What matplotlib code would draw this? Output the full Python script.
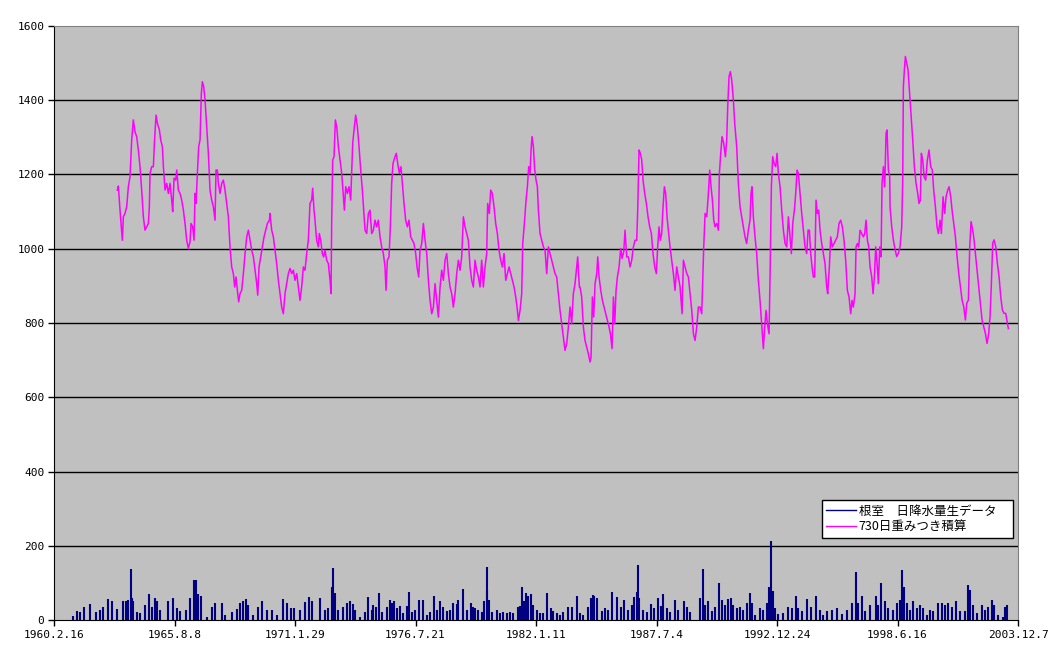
import datetime as dt

import matplotlib
matplotlib.use('Agg')
import matplotlib.pyplot as plt
from matplotlib.lines import Line2D

# 730日重みつき積算 (decimal year, mm)
sum_year = [
    1963.004, 1963.050, 1963.125, 1963.231, 1963.277, 1963.353, 1963.428, 1963.504, 1963.580, 1963.656,
    1963.731, 1963.807, 1963.883, 1963.959, 1964.034, 1964.110, 1964.186, 1964.262, 1964.337, 1964.413,
    1964.458, 1964.489, 1964.565, 1964.640, 1964.686, 1964.761, 1964.822, 1964.913, 1964.973, 1965.049,
    1965.095, 1965.170, 1965.246, 1965.322, 1965.398, 1965.473, 1965.519, 1965.579, 1965.655, 1965.701,
    1965.776, 1965.852, 1965.928, 1966.004, 1966.079, 1966.155, 1966.231, 1966.307, 1966.352, 1966.428,
    1966.488, 1966.534, 1966.579, 1966.640, 1966.700, 1966.761, 1966.822, 1966.867, 1966.928, 1966.988,
    1967.064, 1967.140, 1967.215, 1967.291, 1967.367, 1967.443, 1967.488, 1967.549, 1967.594, 1967.670,
    1967.746, 1967.821, 1967.897, 1967.973, 1968.049, 1968.124, 1968.200, 1968.276, 1968.336, 1968.397,
    1968.458, 1968.518, 1968.579, 1968.654, 1968.730, 1968.806, 1968.882, 1968.957, 1969.033, 1969.109,
    1969.185, 1969.260, 1969.336, 1969.382, 1969.442, 1969.518, 1969.594, 1969.669, 1969.745, 1969.821,
    1969.912,
    1969.941, 1970.017, 1970.093, 1970.168, 1970.244, 1970.320, 1970.396, 1970.471, 1970.547, 1970.623,
    1970.699, 1970.774, 1970.850, 1970.926, 1971.002, 1971.077, 1971.153, 1971.229, 1971.305, 1971.380,
    1971.456, 1971.532, 1971.608, 1971.683, 1971.759, 1971.835, 1971.880, 1971.941, 1971.986, 1972.062,
    1972.138, 1972.183, 1972.244, 1972.319, 1972.380, 1972.441, 1972.516, 1972.592, 1972.668, 1972.713,
    1972.744, 1972.789, 1972.850, 1972.910, 1972.971, 1973.047, 1973.122, 1973.198, 1973.274, 1973.319,
    1973.380, 1973.456, 1973.531, 1973.607, 1973.652, 1973.698, 1973.774, 1973.834, 1973.910, 1973.986,
    1974.061, 1974.137, 1974.198, 1974.258, 1974.334, 1974.410, 1974.486, 1974.561, 1974.637, 1974.713,
    1974.789, 1974.864, 1974.940, 1975.016, 1975.092, 1975.167, 1975.213, 1975.273, 1975.349, 1975.410,
    1975.470, 1975.531, 1975.622, 1975.682, 1975.743, 1975.819, 1975.894, 1975.955, 1976.031, 1976.106,
    1976.182, 1976.258, 1976.334, 1976.409, 1976.485, 1976.561, 1976.621, 1976.697, 1976.758, 1976.834,
    1976.909, 1976.985,
    1977.061, 1977.137, 1977.212, 1977.288, 1977.364, 1977.440, 1977.515, 1977.591, 1977.667, 1977.743,
    1977.818, 1977.894, 1977.970, 1978.046, 1978.121, 1978.197, 1978.273, 1978.349, 1978.424, 1978.500,
    1978.576, 1978.652, 1978.727, 1978.803, 1978.879, 1978.954, 1979.030, 1979.106, 1979.182, 1979.257,
    1979.333, 1979.409, 1979.485, 1979.560, 1979.636, 1979.712, 1979.788, 1979.833, 1979.909, 1979.969,
    1980.045, 1980.121, 1980.197, 1980.272, 1980.348, 1980.424, 1980.500, 1980.575, 1980.651, 1980.727,
    1980.803, 1980.878, 1980.954, 1981.030, 1981.105, 1981.166, 1981.227, 1981.302, 1981.378, 1981.424,
    1981.499, 1981.575, 1981.636, 1981.696, 1981.757, 1981.802, 1981.848, 1981.908, 1981.969, 1982.030,
    1982.090, 1982.136, 1982.211, 1982.287, 1982.363, 1982.439, 1982.514, 1982.590, 1982.666, 1982.741,
    1982.817, 1982.893, 1982.969, 1983.044, 1983.120, 1983.196, 1983.272, 1983.347, 1983.423, 1983.499,
    1983.575, 1983.650, 1983.726, 1983.802, 1983.878, 1983.923, 1983.999,
    1984.029, 1984.105, 1984.181, 1984.256, 1984.332, 1984.408, 1984.484, 1984.529, 1984.590, 1984.650,
    1984.711, 1984.787, 1984.832, 1984.893, 1984.968, 1985.044, 1985.120, 1985.196, 1985.271, 1985.347,
    1985.408, 1985.483, 1985.544, 1985.605, 1985.665, 1985.726, 1985.802, 1985.877, 1985.938, 1986.014,
    1986.074, 1986.150, 1986.226, 1986.301, 1986.377, 1986.453, 1986.529, 1986.604, 1986.650, 1986.710,
    1986.771, 1986.832, 1986.892, 1986.968, 1987.044, 1987.119, 1987.195, 1987.271, 1987.347, 1987.422,
    1987.498, 1987.559, 1987.619, 1987.680, 1987.740, 1987.801, 1987.862, 1987.922, 1987.983, 1988.043,
    1988.119, 1988.195, 1988.271, 1988.346, 1988.422, 1988.498, 1988.574, 1988.665, 1988.725, 1988.801,
    1988.877, 1988.952, 1989.028, 1989.104, 1989.180, 1989.255, 1989.331, 1989.407, 1989.483, 1989.558,
    1989.589, 1989.649, 1989.710, 1989.785, 1989.861, 1989.922, 1989.982, 1990.043, 1990.104, 1990.164,
    1990.240, 1990.316, 1990.361, 1990.422, 1990.482, 1990.558, 1990.634, 1990.694, 1990.740, 1990.800,
    1990.861, 1990.922, 1990.997, 1991.058,
    1991.148, 1991.224, 1991.299, 1991.375, 1991.451, 1991.527, 1991.602, 1991.678, 1991.754, 1991.799,
    1991.845, 1991.905, 1991.981, 1992.057, 1992.133, 1992.208, 1992.284, 1992.360, 1992.420, 1992.481,
    1992.542, 1992.617, 1992.663, 1992.723, 1992.784, 1992.845, 1992.920, 1992.981, 1993.041, 1993.117,
    1993.193, 1993.269, 1993.344, 1993.420, 1993.496, 1993.572, 1993.632, 1993.693, 1993.769, 1993.829,
    1993.890, 1993.950, 1994.026, 1994.102, 1994.178, 1994.253, 1994.329, 1994.390, 1994.450, 1994.511,
    1994.571, 1994.632, 1994.693, 1994.753, 1994.814, 1994.874, 1994.935, 1995.011, 1995.086, 1995.162,
    1995.238, 1995.283, 1995.359, 1995.420, 1995.495, 1995.571, 1995.647, 1995.723, 1995.798, 1995.874,
    1995.950, 1996.026, 1996.101, 1996.177, 1996.253, 1996.329, 1996.389, 1996.450, 1996.526, 1996.571,
    1996.632, 1996.692, 1996.753, 1996.828, 1996.904, 1996.965, 1997.025, 1997.086, 1997.147, 1997.207,
    1997.283, 1997.344, 1997.404, 1997.465, 1997.525, 1997.586, 1997.646, 1997.707, 1997.752, 1997.813,
    1997.874, 1997.934, 1997.980, 1998.040, 1998.101,
    1998.116, 1998.192, 1998.268, 1998.344, 1998.419, 1998.495, 1998.571, 1998.647, 1998.692, 1998.722,
    1998.768, 1998.813, 1998.874, 1998.934, 1998.995, 1999.071, 1999.147, 1999.222, 1999.298, 1999.374,
    1999.434, 1999.495, 1999.540, 1999.601, 1999.662, 1999.737, 1999.813, 1999.889, 1999.964, 2000.040,
    2000.101, 2000.177, 2000.252, 2000.313, 2000.389, 2000.449, 2000.525, 2000.601, 2000.661, 2000.737,
    2000.798, 2000.873, 2000.934, 2001.010, 2001.085, 2001.161, 2001.237, 2001.313, 2001.388, 2001.464,
    2001.540, 2001.600, 2001.676, 2001.737, 2001.797, 2001.873, 2001.934, 2002.009, 2002.085, 2002.161,
    2002.237, 2002.297, 2002.373, 2002.449, 2002.525, 2002.600, 2002.661, 2002.721, 2002.782, 2002.843,
    2002.918, 2002.994, 2003.070, 2003.146, 2003.221, 2003.297, 2003.373, 2003.449, 2003.494,
]
sum_mm = [
    1158, 1169, 1104, 1023, 1086, 1095, 1113, 1167, 1194, 1293,
    1347, 1315, 1302, 1266, 1221, 1158, 1086, 1050, 1059, 1068,
    1113, 1203, 1221, 1221, 1284, 1360, 1338, 1320, 1293, 1275,
    1221, 1158, 1176, 1149, 1176, 1131, 1100, 1190, 1185, 1212,
    1158, 1149, 1131, 1104, 1068, 1023, 1001, 1019, 1068, 1059,
    1023, 1149, 1122, 1203, 1275, 1293, 1419, 1450, 1437, 1401,
    1329, 1257, 1158, 1131, 1113, 1077, 1212, 1212, 1176, 1149,
    1176, 1185, 1158, 1122, 1086, 1005, 951, 933, 897, 924,
    888, 857, 879, 888, 933, 987, 1032, 1050, 1023, 996,
    978, 942, 906, 875, 951, 978, 1005, 1032, 1050, 1068,
    1077,
    1095, 1050, 1032, 996, 960, 915, 879, 843, 825, 879,
    906, 933, 947, 933, 942, 915, 933, 897, 861, 897,
    951, 942, 987, 1023, 1122, 1131, 1163, 1104, 1077, 1023,
    1005, 1041, 1023, 987, 978, 996, 969, 960, 915, 879,
    1077, 1239, 1248, 1347, 1329, 1275, 1239, 1203, 1140, 1104,
    1167, 1149, 1167, 1131, 1203, 1284, 1329, 1360, 1329, 1275,
    1212, 1158, 1104, 1050, 1041, 1095, 1104, 1041, 1050, 1077,
    1059, 1077, 1032, 1005, 987, 951, 888, 969, 978, 1059,
    1176, 1230, 1248, 1257, 1230, 1203, 1221, 1176, 1122, 1077,
    1059, 1077, 1032, 1023, 1014, 987, 951, 924, 996, 1014,
    1068, 1023,
    987, 915, 861, 825, 843, 906, 861, 816, 897, 942,
    915, 969, 987, 933, 897, 879, 843, 879, 933, 969,
    942, 978, 1086, 1059, 1041, 1023, 951, 915, 897, 969,
    942, 924, 897, 969, 897, 951, 987, 1122, 1095, 1158,
    1149, 1113, 1068, 1041, 996, 969, 951, 987, 915, 933,
    951, 933, 915, 897, 870, 843, 807, 834, 879, 1014,
    1068, 1131, 1167, 1221, 1203, 1266, 1302, 1275, 1212, 1185,
    1167, 1104, 1041, 1023, 1005, 996, 933, 1005, 987, 969,
    951, 933, 924, 879, 834, 798, 762, 726, 744, 789,
    843, 798, 879, 906, 951, 978, 897,
    897, 870, 789, 753, 735, 717, 695, 708, 870, 816,
    906, 933, 978, 924, 888, 861, 843, 825, 807, 789,
    771, 731, 870, 798, 888, 924, 951, 1001, 974, 992,
    1050, 978, 978, 951, 969, 1005, 1023, 1023, 1104, 1266,
    1257, 1239, 1185, 1149, 1122, 1086, 1059, 1041, 987, 951,
    933, 1005, 1059, 1023, 1041, 1113, 1167, 1149, 1086, 1050,
    1005, 969, 933, 888, 951, 924, 897, 825, 969, 951,
    933, 924, 879, 834, 771, 753, 789, 843, 843, 825,
    888, 1005, 1095, 1086, 1149, 1212, 1167, 1131, 1077, 1059,
    1068, 1050, 1203, 1257, 1302, 1284, 1248, 1293, 1383, 1464,
    1477, 1454, 1401, 1338,
    1275, 1176, 1113, 1086, 1059, 1032, 1014, 1050, 1077, 1149,
    1167, 1086, 1032, 987, 915, 861, 798, 731, 789, 834,
    798, 771, 924, 1167, 1248, 1230, 1221, 1257, 1203, 1167,
    1104, 1050, 1014, 1005, 1086, 1032, 987, 1068, 1104, 1149,
    1212, 1203, 1149, 1095, 1050, 1005, 987, 1050, 1050, 987,
    951, 924, 924, 1131, 1095, 1104, 1050, 1014, 987, 960,
    897, 879, 951, 1032, 1005, 1014, 1023, 1032, 1068, 1077,
    1059, 1023, 969, 888, 870, 825, 861, 843, 879, 1005,
    1014, 1005, 1050, 1041, 1032, 1041, 1077, 1023, 1005, 951,
    924, 879, 924, 1005, 960, 906, 1005, 978, 1176, 1221,
    1167, 1311, 1320, 1212, 1194,
    1113, 1059, 1023, 998, 979, 988, 1006, 1059, 1185, 1437,
    1482, 1518, 1500, 1482, 1428, 1365, 1293, 1221, 1176, 1149,
    1122, 1131, 1257, 1239, 1194, 1185, 1239, 1266, 1221, 1212,
    1158, 1113, 1059, 1041, 1077, 1041, 1140, 1095, 1140, 1158,
    1167, 1140, 1104, 1068, 1032, 979, 934, 898, 862, 844,
    808, 853, 862, 1006, 1073, 1051, 1023, 979, 934, 889,
    844, 808, 790, 772, 745, 772, 817, 907, 1015, 1024,
    1006, 961, 925, 871, 835, 826, 826, 799, 785,
]

# 根室 日降水量 (decimal year, mm) - visible daily peaks
rain_year = [
    1961.00, 1961.16, 1961.31, 1961.50, 1961.76, 1962.02, 1962.22, 1962.37, 1962.60, 1962.75,
    1963.00, 1963.25, 1963.40, 1963.50, 1963.63, 1963.69, 1963.73, 1963.88, 1964.03, 1964.26,
    1964.44, 1964.56, 1964.72, 1964.79, 1964.94, 1965.32, 1965.55, 1965.70, 1965.85, 1966.11,
    1966.31, 1966.50, 1966.59, 1966.69, 1966.81, 1967.06, 1967.29, 1967.44, 1967.75, 1967.90,
    1968.23, 1968.43, 1968.58, 1968.73, 1968.84, 1968.96, 1969.18, 1969.41, 1969.59, 1969.79,
    1970.02, 1970.25, 1970.55, 1970.70, 1970.88, 1971.03, 1971.31, 1971.53, 1971.73, 1971.87,
    1972.21, 1972.44, 1972.59, 1972.74, 1972.78, 1972.90, 1973.05,
    1973.27, 1973.46, 1973.58, 1973.70, 1973.81, 1974.03, 1974.26, 1974.41, 1974.56, 1974.64,
    1974.76, 1974.91, 1975.02, 1975.24, 1975.40, 1975.47, 1975.58, 1975.70, 1975.85, 1976.00,
    1976.15, 1976.26, 1976.38, 1976.53, 1976.71, 1976.87, 1977.06, 1977.21, 1977.41, 1977.52,
    1977.67, 1977.82, 1977.97, 1978.12, 1978.27, 1978.43, 1978.50, 1978.73, 1978.88, 1979.06,
    1979.18, 1979.26, 1979.41, 1979.56, 1979.68, 1979.79, 1979.82, 1979.89, 1980.02, 1980.24,
    1980.39, 1980.55, 1980.70, 1980.85, 1981.00, 1981.23, 1981.30, 1981.41, 1981.50, 1981.58,
    1981.68, 1981.79, 1981.91, 1982.06, 1982.21, 1982.36, 1982.55, 1982.70, 1982.82, 1982.97,
    1983.12, 1983.27, 1983.50, 1983.65, 1983.88, 1984.03, 1984.18, 1984.38, 1984.51, 1984.61,
    1984.68, 1984.79, 1985.01, 1985.17, 1985.32, 1985.50, 1985.70, 1985.88, 1986.03, 1986.23,
    1986.38, 1986.50, 1986.61, 1986.67, 1986.73, 1986.91, 1987.06, 1987.24, 1987.39, 1987.59,
    1987.70, 1987.82, 1987.97, 1988.12, 1988.35, 1988.50, 1988.73, 1988.88, 1989.03,
    1989.48, 1989.63, 1989.71, 1989.86, 1990.01, 1990.16, 1990.36, 1990.47, 1990.62, 1990.77,
    1990.88, 1991.00, 1991.15, 1991.30, 1991.45, 1991.60, 1991.75, 1991.83, 1991.98, 1992.21,
    1992.36, 1992.54, 1992.63, 1992.72, 1992.79, 1992.89, 1993.04, 1993.27, 1993.47, 1993.65,
    1993.82, 1993.95, 1994.10, 1994.36, 1994.51, 1994.75, 1994.94, 1995.09, 1995.27, 1995.47,
    1995.69, 1995.92, 1996.15, 1996.38, 1996.56, 1996.68, 1996.83, 1996.98, 1997.21, 1997.47,
    1997.59, 1997.71, 1997.89, 1998.04, 1998.27, 1998.42, 1998.57, 1998.68, 1998.75, 1998.87,
    1999.03, 1999.18, 1999.33, 1999.48, 1999.63, 1999.78, 1999.94, 2000.09, 2000.31, 2000.47,
    2000.62, 2000.77, 2000.92, 2001.12, 2001.30, 2001.53, 2001.68, 2001.75, 2001.87, 2002.06,
    2002.28, 2002.43, 2002.59, 2002.74, 2002.86, 2003.04, 2003.27, 2003.34, 2003.45,
]
rain_mm = [
    11, 24, 22, 36, 42, 22, 27, 36, 57, 50,
    29, 51, 50, 54, 137, 58, 50, 22, 20, 40,
    70, 36, 58, 50, 27, 52, 60, 33, 24, 27,
    58, 108, 108, 70, 65, 9, 36, 47, 45, 14,
    22, 29, 47, 50, 56, 40, 14, 34, 51, 27,
    27, 14, 57, 47, 33, 33, 27, 48, 61, 51,
    58, 27, 33, 90, 141, 72, 27,
    36, 47, 50, 43, 27, 7, 22, 61, 27, 40,
    34, 72, 22, 34, 54, 45, 51, 32, 38, 18,
    38, 76, 22, 27, 54, 54, 14, 22, 65, 27,
    50, 34, 24, 27, 45, 43, 54, 83, 27, 47,
    36, 32, 27, 22, 51, 78, 142, 54, 22, 27,
    20, 22, 18, 22, 20, 36, 39, 88, 50, 72,
    65, 70, 40, 27, 18, 18, 74, 32, 25, 18,
    14, 22, 34, 36, 65, 20, 14, 36, 58, 66,
    65, 58, 24, 32, 27, 76, 63, 36, 54, 27,
    40, 63, 76, 149, 58, 27, 22, 43, 32, 58,
    38, 70, 33, 22, 54, 27, 52, 34, 22,
    59, 137, 41, 50, 23, 34, 99, 54, 41, 56,
    59, 41, 32, 36, 27, 45, 74, 45, 14, 32,
    27, 45, 90, 214, 77, 32, 16, 18, 36, 32,
    65, 32, 23, 56, 36, 65, 27, 14, 25, 27,
    32, 16, 27, 45, 128, 45, 65, 23, 41, 65,
    41, 99, 50, 32, 27, 45, 54, 135, 90, 45,
    27, 50, 32, 41, 32, 14, 27, 25, 45, 45,
    41, 45, 36, 50, 23, 23, 95, 81, 41, 18,
    41, 27, 36, 54, 41, 14, 9, 36, 40,
]

y_ticks = [0, 200, 400, 600, 800, 1000, 1200, 1400, 1600]
x_start = dt.datetime(1960, 2, 16)
x_step_days = 2000
n_xticks = 9

label_raw = '根室\u3000日降水量生データ\u3000'
label_sum = '730日重みつき積算'


def to_date(y):
    yr = int(y)
    a = dt.datetime(yr, 1, 1)
    b = dt.datetime(yr + 1, 1, 1)
    return a + (b - a) * (y - yr)


rain_dates = [to_date(v) for v in rain_year]
sum_dates = [to_date(v) for v in sum_year]
xticks = [x_start + dt.timedelta(days=x_step_days * i) for i in range(n_xticks)]

fig = plt.figure(figsize=(10.59, 6.57), dpi=100)
ax = fig.add_axes([54 / 1059, 1 - 620 / 657, 964 / 1059, 594 / 657])
ax.set_facecolor('#C0C0C0')

for v in y_ticks[1:-1]:
    ax.axhline(v, color='black', lw=1.0, zorder=1)

ax.vlines(rain_dates, 0, rain_mm, color='#000080', lw=1.5, zorder=2)
ax.plot(sum_dates, sum_mm, color='#FF00FF', lw=1.1, zorder=3)

ax.set_xlim(xticks[0], xticks[-1])
ax.set_ylim(0, 1600)
ax.set_yticks(y_ticks)
ax.set_xticks(xticks)
ax.set_xticklabels([f'{d.year}.{d.month}.{d.day}' for d in xticks])
ax.tick_params(axis='both', direction='out', length=4, width=1, color='black',
               labelsize=8, pad=3)
for lab in ax.get_xticklabels() + ax.get_yticklabels():
    lab.set_family('DejaVu Sans Mono')

ax.spines['left'].set_color('black')
ax.spines['bottom'].set_color('black')
ax.spines['top'].set_color('#808080')
ax.spines['right'].set_color('#808080')

handles = [Line2D([], [], color='#000080', lw=1.0),
           Line2D([], [], color='#FF00FF', lw=1.0)]
leg = ax.legend(handles, [label_raw, label_sum], loc='lower right',
                bbox_to_anchor=(959 / 964, 82 / 594), frameon=True, fancybox=False,
                framealpha=1, edgecolor='black', handlelength=2.4, handletextpad=0.2,
                borderpad=0.35, borderaxespad=0, labelspacing=0.25,
                prop={'family': ['Noto Sans CJK JP', 'DejaVu Sans'], 'size': 9})
leg.get_frame().set_linewidth(1.0)

fig.savefig('out.png', dpi=100)
